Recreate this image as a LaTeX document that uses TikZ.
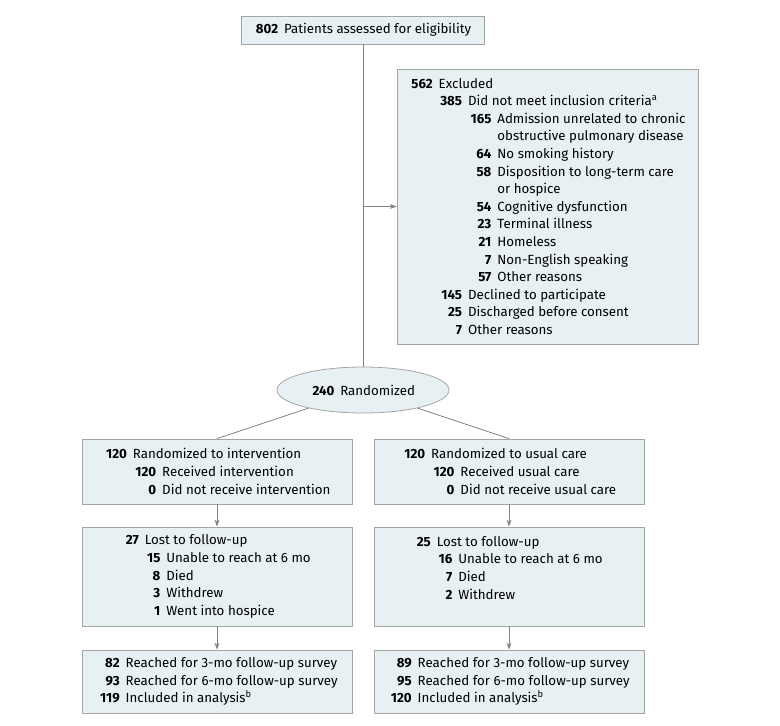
\documentclass[tikz,border=0pt]{standalone}
\usepackage{fontspec}
\setmainfont{Fira Sans}
\usetikzlibrary{shapes.geometric,arrows.meta}
\definecolor{boxfill}{RGB}{231,240,243}
\definecolor{boxline}{RGB}{165,165,165}
\definecolor{linkgray}{RGB}{130,130,130}
\newlength{\numwd}
% count right aligned in a column as wide as #1
\newcommand{\cnum}[2]{\settowidth{\numwd}{\textbf{#1}}\makebox[\numwd][r]{\textbf{#2}}\hspace{.45em}}
% indent by one column
\newcommand{\cind}[1]{\settowidth{\numwd}{\textbf{#1}}\hspace*{\numwd}\hspace*{.45em}}
\begin{document}
\begin{tikzpicture}[x=1pt,y=-1pt,
  font=\fontsize{13.3}{17.6}\selectfont,
  cbox/.style={draw=boxline,fill=boxfill,line width=0.8pt,align=left,inner sep=3pt},
  oval/.style={ellipse,draw=boxline,fill=boxfill,line width=0.8pt,inner sep=0pt,
    minimum width=172pt,minimum height=46pt},
  lnk/.style={draw=linkgray,line width=0.8pt},
  arw/.style={lnk,-{Stealth[length=7pt,width=5pt]}}]
\useasboundingbox (0,0) rectangle (780,726);
\node[cbox,minimum width=243pt,minimum height=28pt] (elig) at (363,30)
  {\cnum{000}{802}Patients assessed for eligibility};
\node[cbox,minimum width=301pt,minimum height=275pt] (excl) at (547.5,206.5)
  {\cnum{000}{562}Excluded\\
   \cind{000}\cnum{000}{385}Did not meet inclusion criteria\textsuperscript{a}\\
   \cind{000}\cind{000}\cnum{000}{165}Admission unrelated to chronic\\
   \cind{000}\cind{000}\cind{000}obstructive pulmonary disease\\
   \cind{000}\cind{000}\cnum{000}{64}No smoking history\\
   \cind{000}\cind{000}\cnum{000}{58}Disposition to long-term care\\
   \cind{000}\cind{000}\cind{000}or hospice\\
   \cind{000}\cind{000}\cnum{000}{54}Cognitive dysfunction\\
   \cind{000}\cind{000}\cnum{000}{23}Terminal illness\\
   \cind{000}\cind{000}\cnum{000}{21}Homeless\\
   \cind{000}\cind{000}\cnum{000}{7}Non-English speaking\\
   \cind{000}\cind{000}\cnum{000}{57}Other reasons\\
   \cind{000}\cnum{000}{145}Declined to participate\\
   \cind{000}\cnum{000}{25}Discharged before consent\\
   \cind{000}\cnum{000}{7}Other reasons};
\node[oval] (rand) at (363,390) {\cnum{000}{240}Randomized};
% intervention arm
\node[cbox,minimum width=270pt,minimum height=65pt] (intv) at (217,471.5)
  {\cnum{000}{120}Randomized to intervention\\
   \cind{000}\cnum{000}{120}Received intervention\\
   \cind{000}\cnum{000}{0}Did not receive intervention};
\node[cbox,minimum width=270pt,minimum height=99pt] (lostI) at (217,576.5)
  {\cnum{00}{27}Lost to follow-up\\
   \cind{00}\cnum{00}{15}Unable to reach at 6 mo\\
   \cind{00}\cnum{00}{8}Died\\
   \cind{00}\cnum{00}{3}Withdrew\\
   \cind{00}\cnum{00}{1}Went into hospice};
\node[cbox,minimum width=270pt,minimum height=63pt] (anaI) at (217,681.5)
  {\cnum{000}{82}Reached for 3-mo follow-up survey\\
   \cnum{000}{93}Reached for 6-mo follow-up survey\\
   \cnum{000}{119}Included in analysis\textsuperscript{b}};
% usual care arm
\node[cbox,minimum width=270pt,minimum height=65pt] (usual) at (509,471.5)
  {\cnum{000}{120}Randomized to usual care\\
   \cind{000}\cnum{000}{120}Received usual care\\
   \cind{000}\cnum{000}{0}Did not receive usual care};
\node[cbox,minimum width=270pt,minimum height=99pt] (lostU) at (509,576.5)
  {\cnum{00}{25}Lost to follow-up\\
   \cind{00}\cnum{00}{16}Unable to reach at 6 mo\\
   \cind{00}\cnum{00}{7}Died\\
   \cind{00}\cnum{00}{2}Withdrew\\
   \mbox{}};
\node[cbox,minimum width=270pt,minimum height=63pt] (anaU) at (509,681.5)
  {\cnum{000}{89}Reached for 3-mo follow-up survey\\
   \cnum{000}{95}Reached for 6-mo follow-up survey\\
   \cnum{000}{120}Included in analysis\textsuperscript{b}};
% connectors
\draw[lnk] (elig) -- (rand);
\draw[arw] (elig.south |- excl.west) -- (excl.west);
\draw[lnk] (rand) -- (intv.north);
\draw[lnk] (rand) -- (usual.north);
\draw[arw] (intv) -- (lostI);
\draw[arw] (lostI) -- (anaI);
\draw[arw] (usual) -- (lostU);
\draw[arw] (lostU) -- (anaU);
\end{tikzpicture}
\end{document}
